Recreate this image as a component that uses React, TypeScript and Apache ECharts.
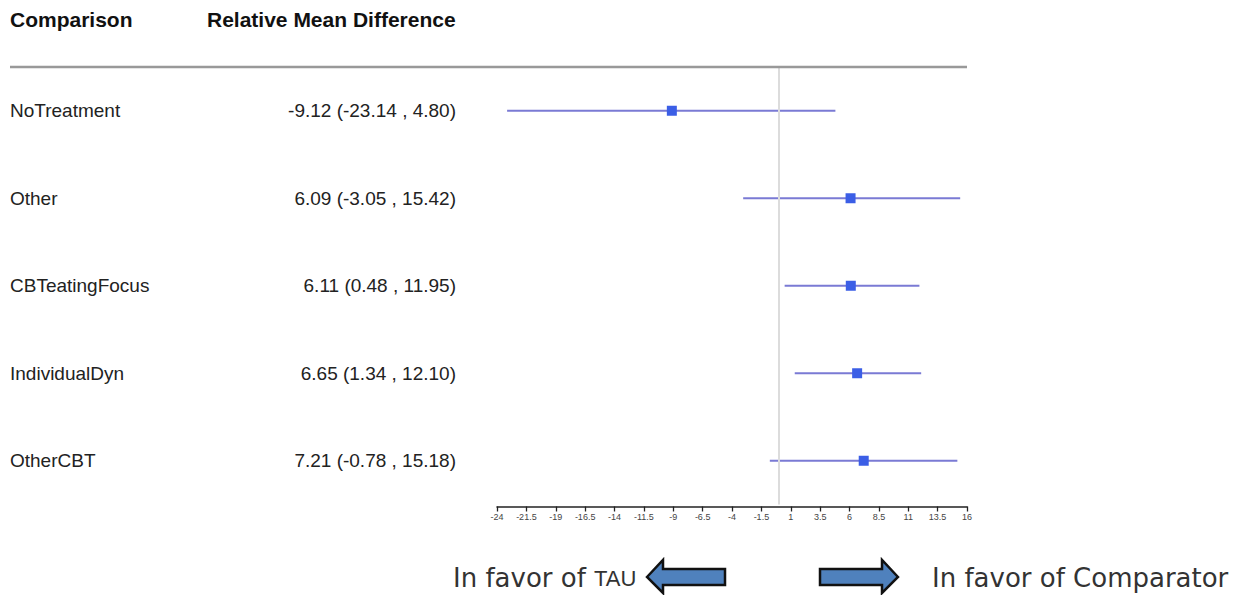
import React, { useEffect, useRef } from "react";
import * as echarts from "echarts";

// Comparisons against TAU, relative mean difference with 95% CI
const comparisons = ["NoTreatment", "Other", "CBTeatingFocus", "IndividualDyn", "OtherCBT"];
const estimates = [-9.12, 6.09, 6.11, 6.65, 7.21];
const lowerCI = [-23.14, -3.05, 0.48, 1.34, -0.78];
const upperCI = [4.8, 15.42, 11.95, 12.1, 15.18];
const xTicks = [-24, -21.5, -19, -16.5, -14, -11.5, -9, -6.5, -4, -1.5, 1, 3.5, 6, 8.5, 11, 13.5, 16];

const fmt = (v: number) => v.toFixed(2);

export default function App() {
  const ref = useRef<HTMLDivElement>(null);

  useEffect(() => {
    if (!ref.current) return;
    const chart = echarts.init(ref.current, undefined, { renderer: "svg" });

    const ciText = comparisons.map(
      (_, i) => `${fmt(estimates[i])} (${fmt(lowerCI[i])} , ${fmt(upperCI[i])})`
    );
    const intervals = comparisons.map((_, i) => [lowerCI[i], upperCI[i], i]);
    const points = comparisons.map((name, i) => [estimates[i], name]);

    chart.setOption({
      animation: false,
      backgroundColor: "#ffffff",
      grid: { left: 497, right: 276, top: 67, height: 437.5 },
      xAxis: {
        type: "value",
        min: -24,
        max: 16,
        offset: 2,
        splitLine: { show: false },
        axisLine: { show: true, lineStyle: { color: "#222", width: 1.5 } },
        axisTick: { show: true, customValues: xTicks, length: 5, lineStyle: { color: "#222", width: 1.3 } },
        axisLabel: {
          customValues: xTicks,
          fontSize: 9,
          color: "#444",
          fontFamily: "Liberation Sans",
          margin: 6,
          formatter: (v: number) => String(v),
        },
      },
      yAxis: {
        type: "category",
        data: comparisons,
        inverse: true,
        axisLine: { show: false },
        axisTick: { show: false },
        splitLine: { show: false },
        axisLabel: {
          margin: 41,
          align: "right",
          formatter: (name: string, idx: number) => `{n|${name}}{c|${ciText[idx]}}`,
          rich: {
            n: { width: 200, align: "left", fontSize: 19, color: "#222", fontFamily: "Liberation Sans" },
            c: { width: 246, align: "right", fontSize: 19, color: "#222", fontFamily: "Liberation Sans" },
          },
        },
      },
      series: [
        {
          type: "custom",
          data: intervals,
          encode: { x: [0, 1], y: 2 },
          renderItem: (params: any, api: any) => {
            const idx = api.value(2);
            const lo = api.coord([api.value(0), idx]);
            const hi = api.coord([api.value(1), idx]);
            return {
              type: "line",
              shape: { x1: lo[0], y1: lo[1], x2: hi[0], y2: hi[1] },
              style: { stroke: "#7a7ad4", lineWidth: 2 },
            };
          },
          z: 3,
        },
        {
          type: "scatter",
          data: points,
          symbol: "rect",
          symbolSize: 10,
          itemStyle: { color: "#3b5ee6", opacity: 1 },
          z: 4,
          markLine: {
            silent: true,
            symbol: "none",
            label: { show: false },
            lineStyle: { color: "#dcdcdc", width: 2, type: "solid" },
            data: [{ xAxis: 0 }],
          },
        },
      ],
      graphic: [
        {
          type: "text",
          left: 10,
          top: 9,
          style: { text: "Comparison", font: "bold 21px 'Liberation Sans'", fill: "#111" },
        },
        {
          type: "text",
          left: 207,
          top: 9,
          style: { text: "Relative Mean Difference", font: "bold 21px 'Liberation Sans'", fill: "#111" },
        },
        {
          type: "line",
          shape: { x1: 10, y1: 67, x2: 967, y2: 67 },
          style: { stroke: "#999", lineWidth: 2.5 },
          z: 10,
        },
        {
          type: "polygon",
          shape: {
            points: [[647, 577], [663, 560], [663, 569], [725, 569], [725, 585], [663, 585], [663, 593]],
          },
          style: { fill: "#4f81bd", stroke: "#111", lineWidth: 2.5 },
        },
        {
          type: "polygon",
          shape: {
            points: [[898, 577], [882, 560], [882, 569], [820, 569], [820, 585], [882, 585], [882, 593]],
          },
          style: { fill: "#4f81bd", stroke: "#111", lineWidth: 2.5 },
        },
        {
          type: "text",
          x: 453,
          y: 578,
          style: {
            text: "{a|In favor of }{b|TAU}",
            verticalAlign: "middle",
            rich: {
              a: { fontSize: 26, fontFamily: "DejaVu Sans", fill: "#333" },
              b: { fontSize: 22, fontFamily: "Liberation Sans", fill: "#333" },
            },
          },
        },
        {
          type: "text",
          x: 932,
          y: 578,
          style: {
            text: "In favor of Comparator",
            verticalAlign: "middle",
            font: "26px 'DejaVu Sans'",
            fill: "#333",
          },
        },
      ],
    });

    return () => chart.dispose();
  }, []);

  return (
    <div
      ref={ref}
      style={{ position: "fixed", left: 0, top: 0, width: 1243, height: 595 }}
    />
  );
}
